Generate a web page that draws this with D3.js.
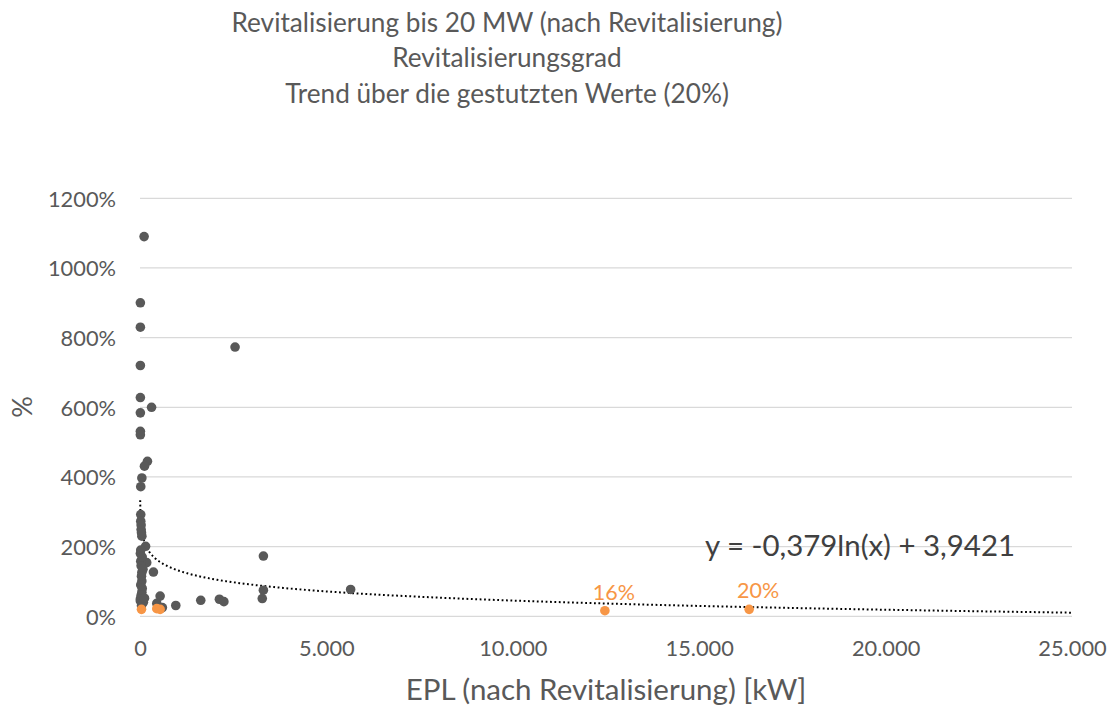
<!DOCTYPE html>
<html>
<head>
<meta charset="utf-8">
<script src="https://cdn.jsdelivr.net/npm/d3@7"></script>
<style>
  html, body { margin: 0; padding: 0; background: #fff; }
  svg text { font-family: Lato, "Open Sans", sans-serif; }
</style>
</head>
<body>
<svg id="chart" width="1115" height="707"></svg>
<script>
// ---- data (EPL in kW, Revitalisierungsgrad in %) ----
const titleLines = [
  "Revitalisierung bis 20 MW (nach Revitalisierung)",
  "Revitalisierungsgrad",
  "Trend über die gestutzten Werte (20%)"
];
const darkX = [110, 10, 10, 2550, 10, 10, 310, 10, 10, 10, 200, 120, 50, 20,
  20, 20, 30, 50, 150, 10, 20, 180, 360, 50, 50, 50, 540, 450, 600, 960,
  1630, 2130, 2250, 3310, 3310, 3280, 5650, 10,
  30, 40, 20, 60, 30, 80, 40, 20, 60, 30, 10, 90, 40, 120];
const darkY = [1090, 900, 830, 773, 720, 628, 600, 584, 531, 521, 445, 431, 397, 372,
  292, 273, 249, 230, 201, 180, 158, 154, 127, 126, 101, 69, 58, 37, 25, 31,
  46, 49, 42, 173, 75, 51, 77, 44,
  262, 240, 190, 170, 145, 135, 115, 90, 80, 60, 50, 40, 30, 52];
const orangeX = [40, 450, 540, 12470, 16340];
const orangeY = [20, 22, 20, 16, 20];
const labeledIdx = [3, 4];           // orange points with value labels
const labelText = ["16%", "20%"];
const trendA = -0.379, trendB = 3.9421;   // y = a ln(x) + b (fraction)
const trendRange = [5, 25000];
const xTicks = [0, 5000, 10000, 15000, 20000, 25000];
const yTicks = [0, 200, 400, 600, 800, 1000, 1200];

// ---- layout ----
const svg = d3.select("#chart");
const x = d3.scaleLinear().domain([0, 25000]).range([140, 1072]);
const y = d3.scaleLinear().domain([0, 1200]).range([616.3, 198.3]);
const grey = "#595959";

// title
svg.append("g").selectAll("text").data(titleLines).join("text")
  .attr("x", 507).attr("y", (d, i) => 31.5 + i * 35.5)
  .attr("text-anchor", "middle")
  .attr("font-size", 26.2).attr("fill", grey)
  .text(d => d);

// gridlines
svg.append("g").selectAll("line").data(yTicks).join("line")
  .attr("x1", x(0)).attr("x2", x(25000))
  .attr("y1", d => y(d)).attr("y2", d => y(d))
  .attr("stroke", "#d9d9d9").attr("stroke-width", 1.3);

// y axis labels
const fmtThousands = d3.formatLocale({decimal: ",", thousands: ".", grouping: [3], currency: ["", "€"]}).format(",.0f");
const yAxis = d3.axisLeft(y).tickValues(yTicks).tickSize(0).tickPadding(0)
  .tickFormat(d => d + "%");
svg.append("g").attr("transform", "translate(116,0)").call(yAxis)
  .call(g => g.select(".domain").remove())
  .call(g => g.selectAll("text").attr("font-size", 21.8).attr("fill", grey)
    .attr("font-family", "Lato, sans-serif").attr("dy", "0.36em"));

// x axis labels
const xAxis = d3.axisBottom(x).tickValues(xTicks).tickSize(0).tickPadding(0)
  .tickFormat(d => fmtThousands(d));
svg.append("g").attr("transform", "translate(0,641)").call(xAxis)
  .call(g => g.select(".domain").remove())
  .call(g => g.selectAll("text").attr("font-size", 21.8).attr("fill", grey)
    .attr("font-family", "Lato, sans-serif").attr("dy", "0.71em"));

// axis titles
svg.append("text").attr("x", 606).attr("y", 700).attr("text-anchor", "middle")
  .attr("font-size", 29.5).attr("fill", grey).text("EPL (nach Revitalisierung) [kW]");
svg.append("text").attr("transform", "translate(32,407) rotate(-90)")
  .attr("text-anchor", "middle").attr("font-size", 27).attr("fill", grey).text("%");

// trend line
const tx = d3.range(0, 401).map(i => trendRange[0] * Math.pow(trendRange[1] / trendRange[0], i / 400));
const line = d3.line().x(d => x(d)).y(d => y((trendA * Math.log(d) + trendB) * 100));
svg.append("path").datum(tx).attr("d", line)
  .attr("fill", "none").attr("stroke", "#000").attr("stroke-width", 2)
  .attr("stroke-dasharray", "1.8,2.6");

// dark points
svg.append("g").selectAll("circle").data(darkX.map((d, i) => [d, darkY[i]])).join("circle")
  .attr("cx", d => x(d[0])).attr("cy", d => y(d[1])).attr("r", 4.8)
  .attr("fill", "#595959");

// orange points
svg.append("g").selectAll("circle").data(orangeX.map((d, i) => [d, orangeY[i]])).join("circle")
  .attr("cx", d => x(d[0])).attr("cy", d => y(d[1])).attr("r", 4.8)
  .attr("fill", "#F79646");

// orange labels
svg.append("g").selectAll("text").data(labeledIdx).join("text")
  .attr("x", d => x(orangeX[d]) + 9)
  .attr("y", d => y(orangeY[d]) - 11)
  .attr("text-anchor", "middle").attr("font-size", 21.5).attr("fill", "#F79646")
  .text((d, i) => labelText[i]);

// equation
svg.append("text").attr("x", 860).attr("y", 555.5).attr("text-anchor", "middle")
  .attr("font-size", 29.4).attr("fill", "#404040").text("y = -0,379ln(x) + 3,9421");
</script>
</body>
</html>
